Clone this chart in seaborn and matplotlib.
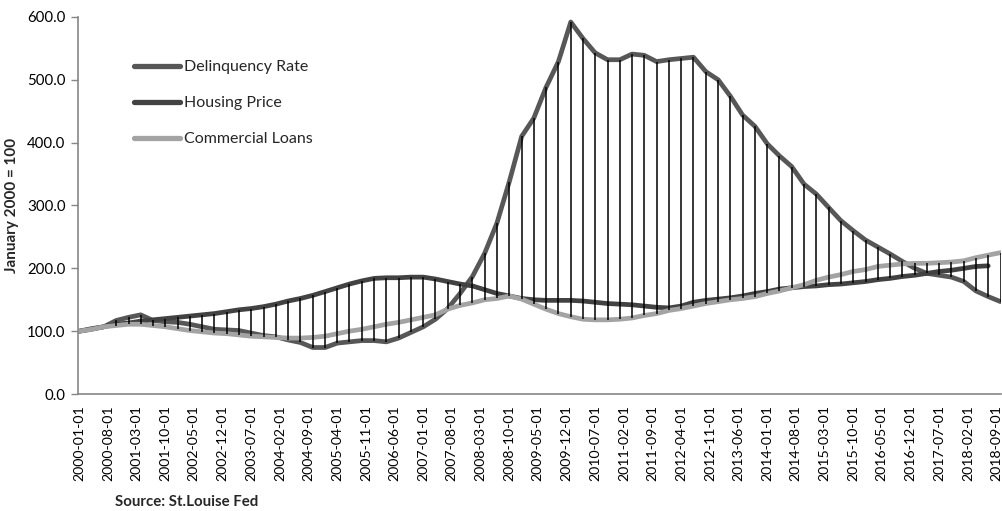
import numpy as np
import pandas as pd
import matplotlib
matplotlib.use("Agg")
import matplotlib.pyplot as plt
from matplotlib.lines import Line2D
from matplotlib.ticker import FuncFormatter
import seaborn as sns

# Quarterly index values, January 2000 = 100
delinquency = [100, 103, 107, 117, 122, 126, 117, 115, 114, 111, 107, 103, 102, 101, 97, 93,
               91, 86, 82, 74, 74, 81, 83, 85, 85, 83, 89, 98, 107, 119, 136, 160,
               187, 224, 272, 338, 410, 439, 488, 529, 592, 566, 543, 532, 532, 541, 539, 529,
               532, 534, 536, 513, 500, 474, 444, 426, 398, 379, 362, 334, 318, 297, 276, 260,
               245, 234, 223, 211, 200, 192, 189, 186, 179, 164, 155, 147]
housing = [100, 104, 107, 111, 113, 116, 118, 120, 122, 124, 126, 128, 131, 134, 136, 139,
           143, 148, 152, 157, 163, 169, 175, 180, 184, 185, 185, 186, 186, 183, 179, 175,
           172, 166, 160, 156, 152, 150, 149, 149, 149, 148, 146, 144, 143, 142, 140, 138,
           137, 140, 146, 149, 151, 153, 156, 160, 163, 167, 169, 171, 172, 174, 175, 177,
           179, 182, 184, 187, 189, 192, 195, 197, 200, 203, 204]
commercial = [100, 103, 107, 109, 111, 111, 109, 107, 104, 101, 99, 97, 96, 94, 92, 91,
              90, 89, 89, 90, 92, 96, 100, 103, 107, 111, 114, 118, 122, 126, 135, 141,
              145, 150, 152, 156, 151, 143, 135, 128, 123, 119, 118, 118, 119, 121, 125, 128,
              133, 136, 140, 144, 147, 150, 152, 155, 160, 164, 169, 174, 181, 186, 190, 195,
              198, 203, 205, 207, 208, 208, 209, 210, 212, 217, 221, 225]

series_names = ["Delinquency Rate", "Housing Price", "Commercial Loans"]
first_date = "2000-01-01"
tick_first, tick_last = "2000-01-01", "2018-09-01"

dates = pd.date_range(first_date, periods=len(delinquency), freq="QS")
wide = pd.DataFrame({
    "date": dates,
    series_names[0]: delinquency,
    series_names[1]: housing + [np.nan] * (len(delinquency) - len(housing)),
    series_names[2]: commercial,
})
long = wide.melt(id_vars="date", var_name="series", value_name="value").dropna()

sns.set_theme(style="white")
plt.rcParams["font.family"] = ["Lato", "DejaVu Sans"]

colors = {series_names[0]: "#575757", series_names[1]: "#424242", series_names[2]: "#a3a3a3"}

fig = plt.figure(figsize=(10.03, 5.11), dpi=100)
ax = fig.add_axes([78 / 1003, 1 - 394 / 511, (1001 - 78) / 1003, (394 - 17) / 511])

sns.lineplot(data=long, x="date", y="value", hue="series", hue_order=series_names,
             palette=colors, linewidth=3.4, ax=ax, legend=False, sort=True,
             solid_capstyle="round", zorder=2)

# High-low lines joining the three series at each quarter
vals = wide[series_names]
ax.vlines(wide["date"], vals.min(axis=1), vals.max(axis=1), color="black",
          linewidth=1.1, zorder=3)

ax.set_ylim(0, 600)
ax.set_yticks(np.arange(0, 601, 100))
ax.yaxis.set_major_formatter(FuncFormatter(lambda v, p: f"{v:.1f}"))
ax.set_xlim(pd.Timestamp(first_date) - pd.Timedelta(days=10),
            pd.Timestamp(dates[-1]) + pd.Timedelta(days=3))
tick_dates = pd.date_range(tick_first, tick_last, freq="7MS")
ax.set_xticks(tick_dates)
ax.set_xticklabels([d.strftime("%Y-%m-%d") for d in tick_dates], rotation=90)
ax.tick_params(axis="x", length=0, pad=8, labelsize=10.2, colors="black")
ax.tick_params(axis="y", length=5, width=1, color="#868686", pad=4, labelsize=10.8,
               labelcolor="black", left=True)
for side in ["top", "right"]:
    ax.spines[side].set_visible(False)
for side in ["left", "bottom"]:
    ax.spines[side].set_color("#868686")
    ax.spines[side].set_linewidth(1.2)
ax.set_xlabel("")
ax.set_ylabel("")

fig.text(12 / 1003, 1 - 205 / 511, "January 2000 = 100", rotation=90, ha="center",
         va="center", fontsize=11, fontweight="bold")
fig.text(115 / 1003, 1 - 502 / 511, "Source: St.Louise Fed", ha="left", va="center",
         fontsize=10.8, fontweight="bold")

handles = [Line2D([], [], color=colors[n], linewidth=3.8, solid_capstyle="round")
           for n in series_names]
ax.legend(handles, series_names, loc="upper left",
          bbox_to_anchor=(134 / 1003, 1 - 60 / 511), bbox_transform=fig.transFigure,
          frameon=False, fontsize=11.5, handlelength=2.85, handletextpad=0.25,
          labelspacing=1.37, borderpad=0, borderaxespad=0)

fig.savefig("out.png", dpi=100)
